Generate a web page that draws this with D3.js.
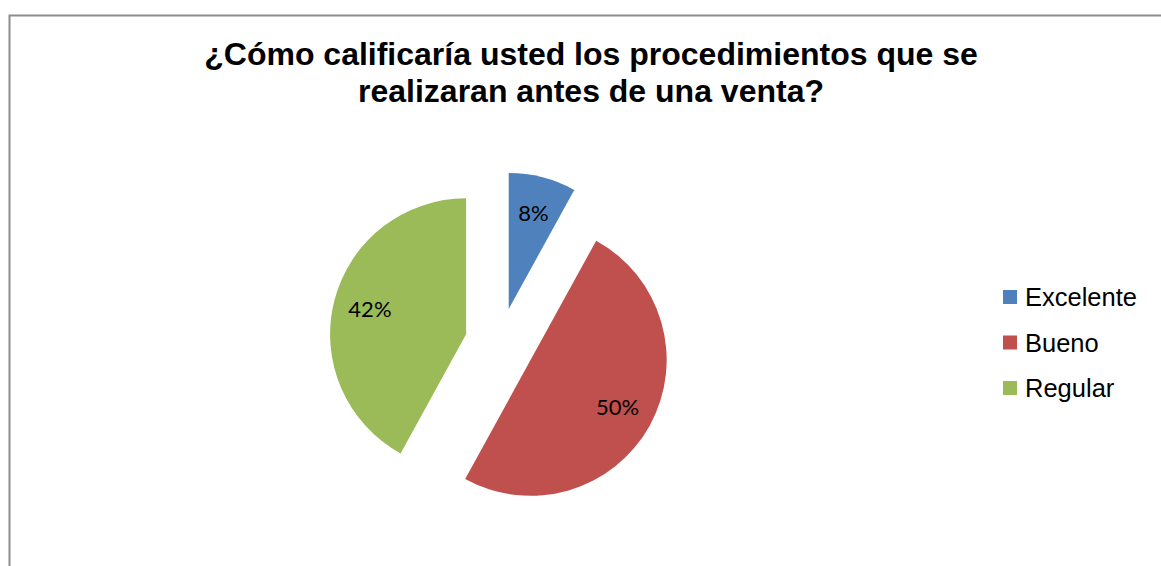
<!DOCTYPE html>
<html>
<head>
<meta charset="utf-8">
<script src="https://cdn.jsdelivr.net/npm/d3@7"></script>
<style>
  body { margin: 0; background: #fff; }
</style>
</head>
<body>
<div id="chart"></div>
<script>
// data
const categories = ['Excelente', 'Bueno', 'Regular'];
const values = [8, 50, 42];
const colors = ['#4f81bd', '#c0504d', '#9bbb59'];
const titleLines = ['¿Cómo calificaría usted los procedimientos que se', 'realizaran antes de una venta?'];

const width = 1161, height = 566;
const cx = 500, cy = 343, radius = 136, explode = 35;

const svg = d3.select('#chart')
    .append('svg')
    .attr('width', width)
    .attr('height', height);

// chart frame (runs off the right and bottom edges)
svg.append('path')
    .attr('d', `M9.5,${height + 2} L9.5,15.5 L${width + 2},15.5`)
    .attr('fill', 'none')
    .attr('stroke', '#8c8c8c')
    .attr('stroke-width', 2);

svg.append('text')
    .attr('text-anchor', 'middle')
    .style('font-family', '"Liberation Sans", Arial, sans-serif')
    .style('font-weight', 'bold')
    .style('font-size', '32px')
    .selectAll('tspan')
    .data(titleLines)
    .join('tspan')
    .attr('x', 591)
    .attr('y', (d, i) => 65 + i * 37)
    .text(d => d);

const pie = d3.pie().sort(null).value(d => d);
const arcs = pie(values);

const arcGen = d3.arc().innerRadius(0).outerRadius(radius);
const labelArc = d3.arc().innerRadius(radius * 0.73).outerRadius(radius * 0.73);

const g = svg.append('g')
    .attr('transform', `translate(${cx},${cy})`);

const slice = g.selectAll('g.slice')
    .data(arcs)
    .join('g')
    .attr('class', 'slice')
    .attr('transform', d => {
        const a = (d.startAngle + d.endAngle) / 2;
        return `translate(${explode * Math.sin(a)},${-explode * Math.cos(a)})`;
    });

slice.append('path')
    .attr('d', arcGen)
    .attr('fill', (d, i) => colors[i]);

slice.append('text')
    .attr('transform', d => `translate(${labelArc.centroid(d)})`)
    .attr('text-anchor', 'middle')
    .attr('dy', '0.35em')
    .style('font-family', 'Lato, "Noto Sans", sans-serif')
    .style('font-size', '22px')
    .attr('fill', '#000')
    .text(d => `${d.data}%`);

// legend
const legend = svg.append('g')
    .attr('transform', 'translate(1003,297)');

const item = legend.selectAll('g')
    .data(categories)
    .join('g')
    .attr('transform', (d, i) => `translate(0,${i * 45.5})`);

item.append('rect')
    .attr('x', 0)
    .attr('y', -7)
    .attr('width', 14)
    .attr('height', 14)
    .attr('fill', (d, i) => colors[i]);

item.append('text')
    .attr('x', 22)
    .attr('dy', '0.36em')
    .style('font-family', '"Liberation Sans", Arial, sans-serif')
    .style('font-size', '25.5px')
    .text(d => d);
</script>
</body>
</html>
